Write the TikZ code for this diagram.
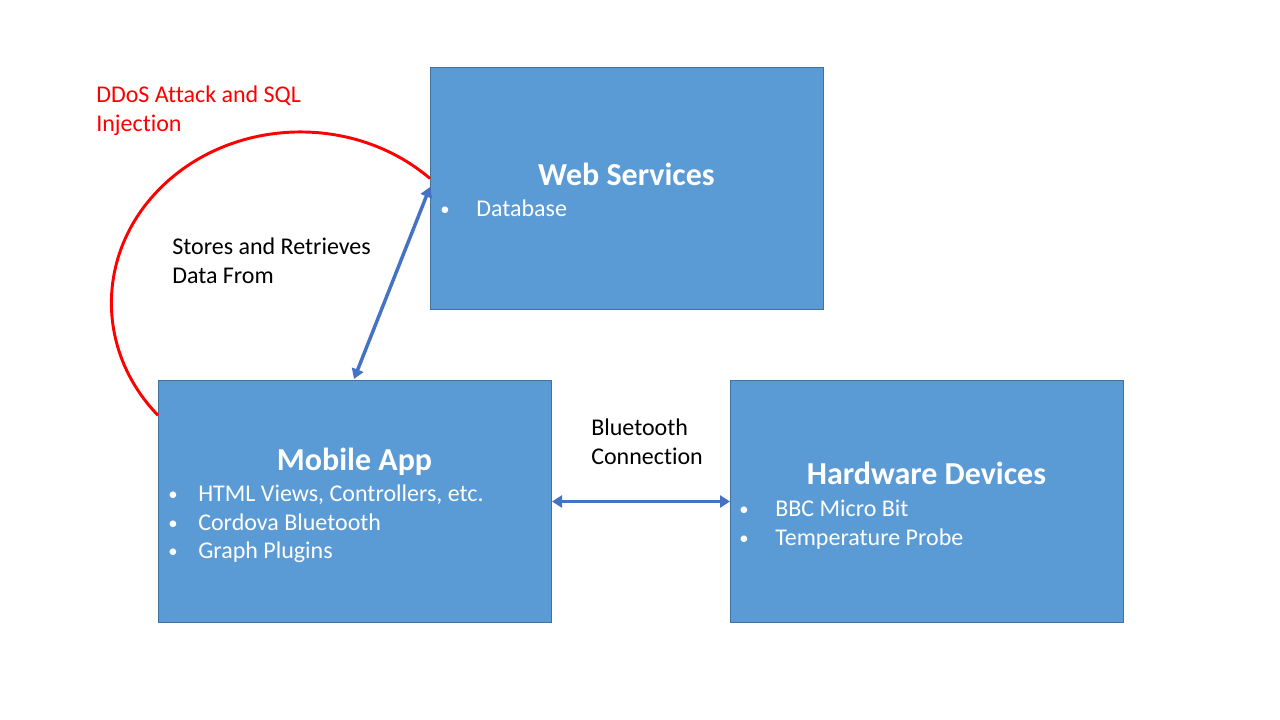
\documentclass[tikz,border=0pt]{standalone}
\usepackage{fontspec}
\setmainfont{Carlito}[Ligatures=NoCommon]
\usetikzlibrary{arrows.meta,calc}
\definecolor{boxfill}{HTML}{5B9BD5}
\definecolor{boxline}{HTML}{41719C}
\definecolor{conncol}{HTML}{4472C4}
\definecolor{attack}{HTML}{FF0000}
\tikzset{
  blockbox/.style={draw=boxline, fill=boxfill, line width=0.75pt, anchor=north west,
    minimum width=294.75pt, minimum height=181.5pt, inner sep=0pt},
  boxtitle/.style={font=\bfseries\fontsize{24}{29}\selectfont, text=white, anchor=base, inner sep=0pt},
  bul/.style={font=\fontsize{18}{22}\selectfont, text=white, anchor=base west, inner sep=0pt},
  bdot/.style={font=\fontsize{14}{17}\selectfont, text=white, anchor=base west, inner sep=0pt},
  lbl/.style={font=\fontsize{18}{22}\selectfont, text=black, anchor=base west, inner sep=0pt},
  redlbl/.style={font=\fontsize{18}{22}\selectfont, text=attack, anchor=base west, inner sep=0pt},
  conn/.style={draw=conncol, line width=2.6pt, {Triangle[length=7.5pt,width=9pt]}-{Triangle[length=7.5pt,width=9pt]}},
  attackline/.style={draw=attack, line width=2.2pt}
}
\begin{document}
\begin{tikzpicture}[x=0.75pt,y=-0.75pt]
\useasboundingbox (0,0) rectangle (1280,720);
% boxes
\node[blockbox] (web) at (430,67) {};
\node[blockbox] (mob) at (158,380) {};
\node[blockbox] (hw) at (730,380) {};
% web services text
\node[boxtitle] (webt) at (626.5,185.5) {Web Services};
\node[bdot] (webb1) at (440,215.5) {\textbullet};
\node[bul] (webi1) at (476,216.5) {Database};
% mobile app text
\node[boxtitle] (mobt) at (354.5,470) {Mobile App};
\node[bdot] (mobb1) at (168,500.5) {\textbullet};
\node[bul] (mobi1) at (198,501.5) {HTML Views, Controllers, etc.};
\node[bdot] (mobb2) at (168,529) {\textbullet};
\node[bul] (mobi2) at (198,530) {Cordova Bluetooth};
\node[bdot] (mobb3) at (168,557) {\textbullet};
\node[bul] (mobi3) at (198,558) {Graph Plugins};
% hardware text
\node[boxtitle] (hwt) at (926.5,484.5) {Hardware Devices};
\node[bdot] (hwb1) at (739,515) {\textbullet};
\node[bul] (hwi1) at (775,516) {BBC Micro Bit};
\node[bdot] (hwb2) at (739,544) {\textbullet};
\node[bul] (hwi2) at (775,545) {Temperature Probe};
% labels
\node[redlbl] (ddos1) at (96,103) {DDoS Attack and SQL};
\node[redlbl] (ddos2) at (96,131.5) {Injection};
\node[lbl] (st1) at (172,254) {Stores and Retrieves};
\node[lbl] (st2) at (172,283) {Data From};
\node[lbl] (bt1) at (591,435) {Bluetooth};
\node[lbl] (bt2) at (591,464) {Connection};
% connectors
\coordinate (mobtop) at ($(mob.north west)+(196,-1)$);
\coordinate (webside) at ($(web.north west)+(0,120)$);
\draw[conn] (mobtop) -- (webside);
\draw[conn] (mob.east) -- (hw.west);
% attack arc
\coordinate (arcstart) at ($(web.north west)+(0,111.5)$);
\draw[attackline] (arcstart) arc[start angle=-46.7, end angle=-221.1, x radius=189, y radius=171];
\end{tikzpicture}
\end{document}
